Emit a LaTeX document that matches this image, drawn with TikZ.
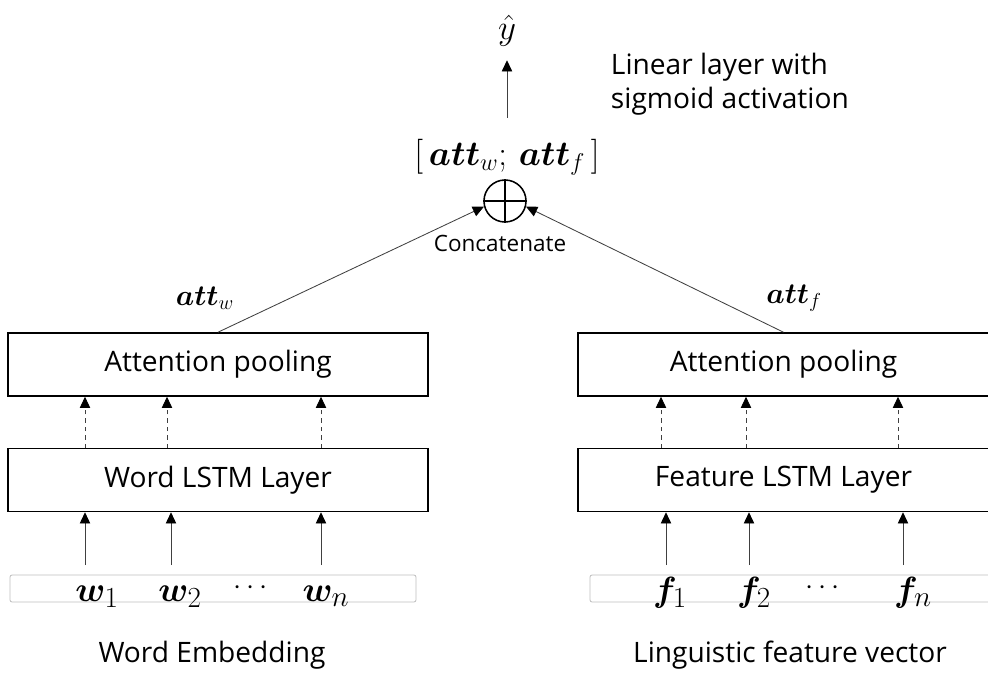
\documentclass[tikz,border=0pt]{standalone}
\usepackage{amsmath}
\usepackage{amssymb}
\usepackage{bm}
\usepackage{fontspec}
\setmainfont{Open Sans}
\usepackage{tikz}
\usetikzlibrary{arrows.meta,positioning,shapes}

\begin{document}
\begin{tikzpicture}[x=0.025cm,y=-0.025cm,
    layer/.style={draw, line width=1.1pt, minimum width=10.5cm, minimum height=1.575cm, inner sep=0pt, font=\fontsize{20}{24}\selectfont},
    strip/.style={draw=black!25, line width=0.6pt, rounded corners=1.5pt},
    token/.style={font=\fontsize{31}{36}\selectfont, inner sep=0pt, anchor=base},
    attlabel/.style={font=\fontsize{22}{26}\selectfont},
    caption/.style={font=\fontsize{20}{24}\selectfont},
    up/.style={draw=black!75, line width=0.6pt, -{Triangle[width=0.26cm,length=0.28cm,color=black]}}]
        \useasboundingbox (0,0) rectangle (988,677);

        % word branch
        \node[layer] (poolw) at (218,364.5) {Attention pooling};
        \node[layer] (lstmw) at (218,480) {Word LSTM Layer};
        \draw[strip] (10,575) rectangle (416,602);
        \node[token] (w1) at (97,601) {$\bm{w}_1$};
        \node[token] (w2) at (180,601) {$\bm{w}_2$};
        \node[token, font=\fontsize{20}{24}\selectfont] (wdots) at (253,594) {$\cdots$};
        \node[token] (wn) at (326,601) {$\bm{w}_n$};
        \node[caption] (wemb) at (212,655) {Word Embedding};

        % feature branch
        \node[layer, minimum width=10.275cm] (poolf) at (783.5,364.5) {Attention pooling};
        \node[layer, minimum width=10.275cm] (lstmf) at (783.5,480) {Feature LSTM Layer};
        \draw[strip] (590,575) rectangle (992,602);
        \node[token] (f1) at (670,601) {$\bm{f}_1$};
        \node[token] (f2) at (754,601) {$\bm{f}_2$};
        \node[token, font=\fontsize{20}{24}\selectfont] (fdots) at (825,594) {$\cdots$};
        \node[token] (fn) at (913,601) {$\bm{f}_n$};
        \node[caption] (femb) at (790,655) {Linguistic feature vector};

        % inputs into the LSTM layers
        \coordinate (iw1) at (85,565);
        \coordinate (iw2) at (171,565);
        \coordinate (iwn) at (321,565);
        \coordinate (if1) at (666,565);
        \coordinate (if2) at (749,565);
        \coordinate (ifn) at (903,565);
        \draw[up] (iw1) -- (iw1 |- lstmw.south);
        \draw[up] (iw2) -- (iw2 |- lstmw.south);
        \draw[up] (iwn) -- (iwn |- lstmw.south);
        \draw[up] (if1) -- (if1 |- lstmf.south);
        \draw[up] (if2) -- (if2 |- lstmf.south);
        \draw[up] (ifn) -- (ifn |- lstmf.south);

        % hidden states into attention pooling
        \coordinate (hw1) at (85,448);
        \coordinate (hw2) at (167,448);
        \coordinate (hwn) at (321,448);
        \coordinate (hf1) at (661,448);
        \coordinate (hf2) at (746,448);
        \coordinate (hfn) at (898,448);
        \draw[up, dashed] (hw1) -- (hw1 |- poolw.south);
        \draw[up, dashed] (hw2) -- (hw2 |- poolw.south);
        \draw[up, dashed] (hwn) -- (hwn |- poolw.south);
        \draw[up, dashed] (hf1) -- (hf1 |- poolf.south);
        \draw[up, dashed] (hf2) -- (hf2 |- poolf.south);
        \draw[up, dashed] (hfn) -- (hfn |- poolf.south);

        % concatenation
        \node[draw, circle, line width=1.1pt, minimum size=1.05cm, inner sep=0pt] (cat) at (505,201) {};
        \draw[line width=1.1pt] (cat.north) -- (cat.south);
        \draw[line width=1.1pt] (cat.west) -- (cat.east);
        \node[font=\fontsize{16}{19}\selectfont] (catname) at (500,243) {Concatenate};
        \node[attlabel, font=\fontsize{23}{27}\selectfont] (catvec) at (507,157) {$[\,\bm{att}_w;\,\bm{att}_f\,]$};
        \node[attlabel] (attw) at (205,298) {$\bm{att}_w$};
        \node[attlabel] (attf) at (794,298) {$\bm{att}_f$};
        \draw[up] (poolw.north) -- (cat.195);
        \draw[up] (poolf.north) -- (cat.-15);

        % output
        \node[font=\fontsize{28}{32}\selectfont, inner sep=1pt] (yhat) at (507,31) {$\hat{y}$};
        \draw[up, shorten <=0.4cm, shorten >=0.3cm] (catvec.north) -- (yhat.south);
        \node[caption, anchor=west, align=left] (linear) at (606,84) {Linear layer with\\sigmoid activation};
\end{tikzpicture}
\end{document}
